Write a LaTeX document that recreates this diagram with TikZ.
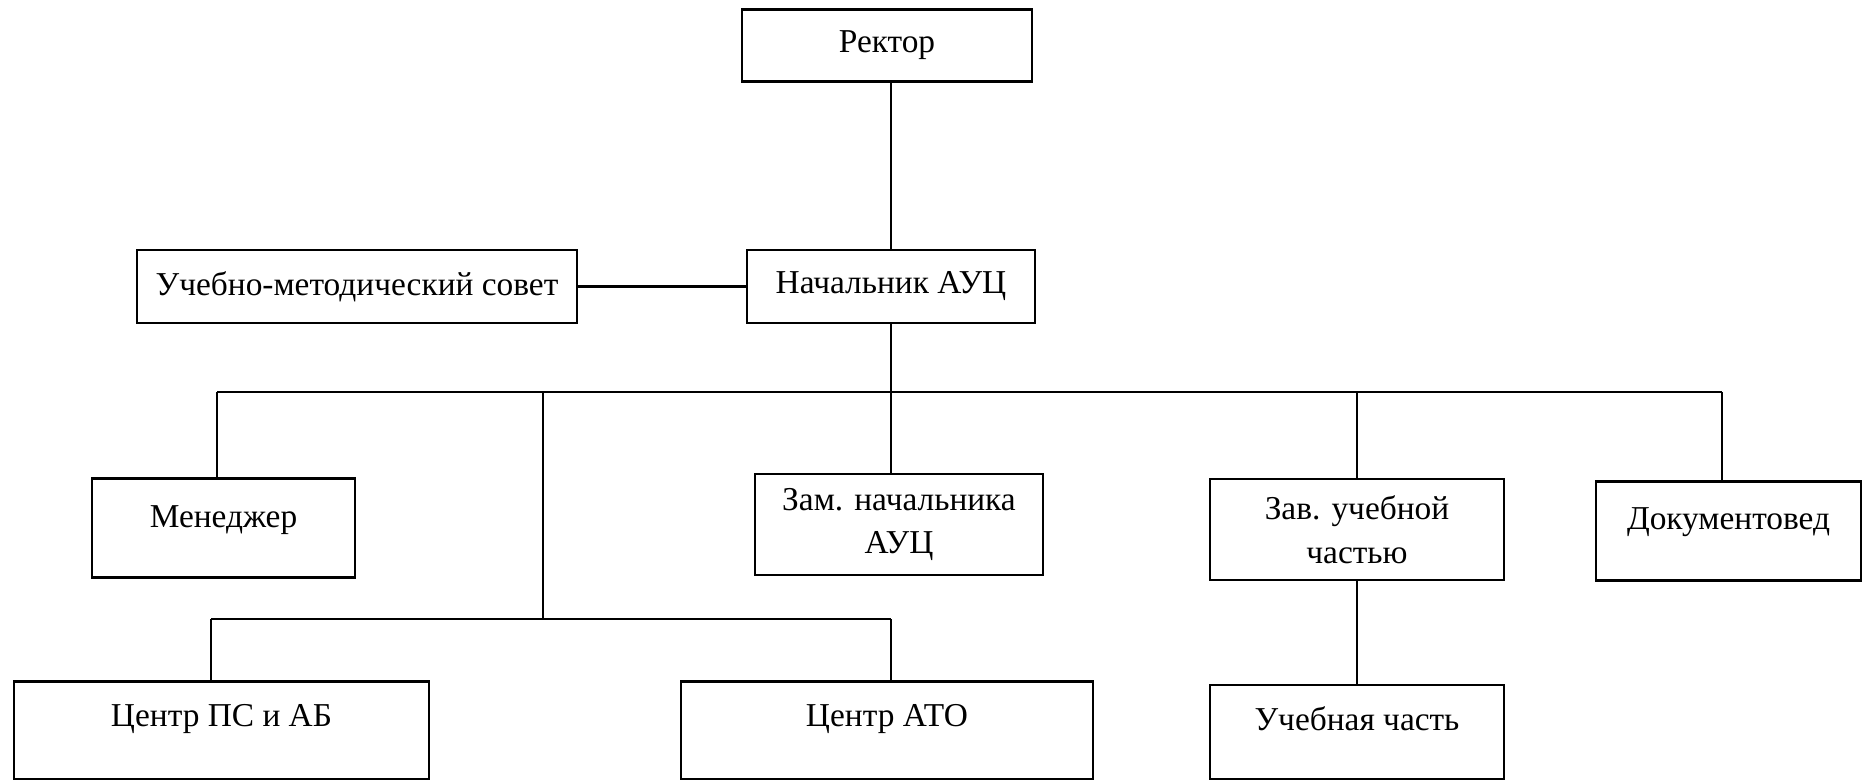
\documentclass[tikz,border=0pt]{standalone}
\usepackage{fontspec}
\setmainfont{Liberation Serif}
\usetikzlibrary{calc, positioning}
\tikzset{
  post/.style={
    rectangle, draw=black, line width=1.3pt, fill=white,
    text centered, align=center, inner sep=2pt
  },
  small/.style={post, minimum width=5.8cm, minimum height=1.44cm},
  mid/.style={post, minimum width=5.3cm, minimum height=1.98cm},
  wide/.style={post, minimum width=8.3cm, minimum height=1.96cm, text depth=0.6cm},
  link/.style={line width=1pt, color=black}
}

\begin{document}
\begin{tikzpicture}[x=0.02cm, y=-0.02cm, every node/.style={font=\fontsize{19}{25}\selectfont}]
    \useasboundingbox (0,0) rectangle (1867,780);

    % Top blocks
    \node[small] (rektor) at (887,45.5) {Ректор};
    \node[small, minimum width=5.76cm, minimum height=1.46cm] (nach) at (891,286.5) {Начальник АУЦ};
    \node[small, minimum width=8.8cm, minimum height=1.46cm] (sovet) at (357,286.5) {Учебно-методический совет};

    % Middle blocks
    \node[mid, minimum width=5.26cm, text depth=0.44cm] (men) at (223.5,528) {Менеджер};
    \node[mid, minimum width=5.76cm, minimum height=2.02cm] (zam) at (899,524.5) {Зам. начальника\\АУЦ};
    \node[mid, minimum width=5.88cm, minimum height=2.02cm] (zav) at (1357,529.5) {Зав. учебной\\частью};
    \node[mid, text depth=0.48cm] (dok) at (1728.5,531) {Документовед};

    % Bottom blocks
    \node[wide] (cps) at (221.5,730.5) {Центр ПС и АБ};
    \node[wide, minimum width=8.24cm] (ato) at (887,730.5) {Центр АТО};
    \node[wide, minimum width=5.88cm, minimum height=1.88cm, text depth=0.55cm] (ucheb) at (1357,732) {Учебная часть};

    % Bus points
    \coordinate (busL) at (217,392);
    \coordinate (busM) at (891,392);
    \coordinate (busR) at (1722,392);
    \coordinate (br) at (543,392);
    \coordinate (br2) at (543,619);

    % Connectors
    \draw[link] (nach.north) -- (nach.north |- rektor.south);
    \draw[link, line width=1.4pt] (sovet.east) -- (nach.west);
    \draw[link] (nach.south) -- (busM);
    \draw[link, line width=1.3pt] (busL) -- (busR);
    \draw[link] (busL) -- (busL |- men.north);
    \draw[link] (busM) -- (busM |- zam.north);
    \draw[link] (busM -| zav.north) -- (zav.north);
    \draw[link] (busR) -- (busR |- dok.north);
    \draw[link] (br) -- (br2);
    \draw[link, line width=1.2pt] (211,619) -- (891,619);
    \draw[link] (211,619) -- (211,619 |- cps.north);
    \draw[link] (891,619) -- (891,619 |- ato.north);
    \draw[link] (zav.south) -- (ucheb.north);

    \end{tikzpicture}
\end{document}
